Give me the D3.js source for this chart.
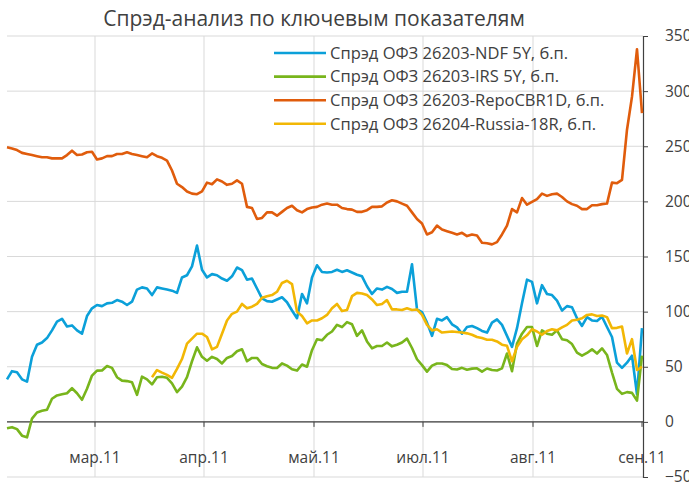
<!DOCTYPE html>
<html>
<head>
<meta charset="utf-8">
<script src="https://cdn.jsdelivr.net/npm/d3@7"></script>
<style>
  body { margin: 0; background: #fff; }
  svg { display: block; font-family: "Open Sans", "Noto Sans", sans-serif; }
</style>
</head>
<body>
<div id="chart"></div>
<script>
// ! data: one value per trading day, index 0..127
const seriesNames = [
  "Спрэд ОФЗ 26203-NDF 5Y, б.п.",
  "Спрэд ОФЗ 26203-IRS 5Y, б.п.",
  "Спрэд ОФЗ 26203-RepoCBR1D, б.п.",
  "Спрэд ОФЗ 26204-Russia-18R, б.п."
];
const seriesColors = ["#0ba0d9", "#78b51c", "#e05c0c", "#f2b705"];

const ndf = [38.6, 46, 45, 38.6, 36.5, 59, 70, 72, 76, 83, 91, 93.5, 86.5, 87.5, 83, 80,
  96, 103, 106, 105, 107.5, 108, 110.5, 109, 106, 109, 120, 122, 121, 115, 122, 121,
  120, 119, 117, 131, 133, 141, 160, 138, 131, 134, 133, 130, 128, 132, 140, 137.7,
  129, 130, 121, 112, 109.5, 109, 111, 113, 108.5, 101, 94, 116, 107.5, 131, 142, 136,
  135.5, 136, 138, 136, 137.5, 135.5, 133.5, 132, 123, 116, 121, 120, 122.5, 120.5, 117, 118,
  118, 143, 102, 99.5, 90, 78, 93.5, 92, 95, 88.5, 85.7, 80, 86, 87, 85, 82.5,
  81, 90, 93, 88, 78, 68, 85, 107.5, 129, 127, 107.5, 124, 116, 115, 110, 101,
  105, 104, 94, 87, 95, 92, 91.5, 95.4, 86, 77, 53.7, 49, 53.7, 60, 25, 85];

const irs = [-5.7, -4.8, -6.6, -12.5, -14, 3, 8.5, 10, 11, 21, 24, 25, 26, 30.5, 26, 20,
  30, 42, 46.5, 46.6, 50.7, 49, 40.5, 37.4, 37, 36, 24.5, 41, 38.6, 34, 40.5, 41,
  40, 35, 27, 32, 40.5, 55, 67.6, 59, 55.5, 59, 57, 53, 58, 59.8, 64, 65.8,
  55, 58, 58, 52.5, 50.5, 49, 48.8, 53, 51, 47.7, 46.5, 52, 50, 65, 75, 74,
  79, 82, 88, 86, 90.5, 88.5, 78, 83, 73, 66.7, 68.8, 68.8, 72, 68.5, 70, 72,
  75.5, 67, 56.8, 51.5, 45.6, 51, 53, 53, 51.5, 48, 47.5, 49, 47.3, 48.3, 48.6, 45.6,
  48.4, 47, 46.6, 48.5, 62, 46, 71, 80, 86, 86, 68.8, 83, 80, 79, 83, 75,
  74, 70.6, 62.8, 60, 62.5, 65.8, 62, 66.7, 60.7, 44.7, 30, 25.4, 27, 26.3, 19.3, 60];

const repo = [249, 248, 246.5, 244, 243, 242, 241, 240, 240, 239, 239, 239, 242, 246, 242, 242.5,
  244.5, 245, 238, 239, 241, 241, 243, 243, 244.5, 243, 242, 241, 240, 243.5, 241, 239.5,
  237, 228, 216, 213, 209, 207, 206.5, 209, 217, 215.5, 220, 218, 215, 216, 219, 216,
  195, 194, 184, 185, 190, 190, 187, 190.5, 194, 196, 192, 190, 193, 194.5, 195, 197,
  198, 197, 197, 194, 193, 192.5, 190.5, 190.5, 192, 195, 195, 195.5, 199, 201, 200, 198,
  196, 190, 184, 180, 170, 172, 178, 174.5, 173, 171.5, 170, 171.5, 168.5, 170, 169, 162.5,
  162, 161, 163, 170, 178, 193, 190, 203, 197, 199.5, 202, 207, 205, 206.5, 207, 204,
  200, 197.5, 196, 193, 193, 196.5, 196.5, 197.5, 198, 217, 216.5, 219.5, 265, 295, 338, 280];

const russia = [null, null, null, null, null, null, null, null, null, null, null, null, null, null, null, null,
  null, null, null, null, null, null, null, null, null, null, null, null, null, 40.5, 47, 44.7,
  42.6, 40, 48, 57, 71, 75.5, 80, 80, 77, 65.8, 68, 80, 92, 98, 100, 107,
  103, 104.5, 107, 112.5, 114, 115, 118, 126, 128, 125, 100, 96, 89.4, 92, 92, 94,
  97, 103, 107, 100.5, 101.5, 114, 117, 116.5, 115, 111, 106, 107, 110.5, 102, 102, 101.5,
  103, 101.5, 102, 97, 88, 83, 84, 81, 81.5, 82, 81.5, 81, 80.3, 79, 77, 76,
  74.5, 74.5, 73, 70, 69, 55, 68, 75, 78.5, 84, 82, 79, 82.5, 84, 83, 85.7,
  88, 92, 92.7, 94, 97, 97.5, 96, 96.5, 95, 85, 85.3, 86.5, 62, 75, 47, 50];

const monthLabels = ["мар.11", "апр.11", "май.11", "июл.11", "авг.11", "сен.11"];
const monthIndex = [17.6, 39.4, 61.4, 83.2, 105.2, 127];
const yTicks = [-50, 0, 50, 100, 150, 200, 250, 300, 350];

const width = 689, height = 487;
const plot = { left: 7, right: 643, top: 36, bottom: 477 };

const svg = d3.select("#chart").append("svg")
  .attr("width", width).attr("height", height);

const x = d3.scaleLinear().domain([0, ndf.length - 1]).range([plot.left, plot.right - 1]);
const y = d3.scaleLinear().domain([-50, 350]).range([plot.bottom, plot.top]);

// gridlines
svg.append("g").selectAll("line").data(yTicks).enter().append("line")
  .attr("x1", plot.left).attr("x2", plot.right)
  .attr("y1", d => y(d)).attr("y2", d => y(d))
  .attr("stroke", "#d9d9d9").attr("stroke-width", 1);

svg.append("g").selectAll("line").data(monthIndex.slice(0, -1)).enter().append("line")
  .attr("x1", d => x(d)).attr("x2", d => x(d))
  .attr("y1", plot.top).attr("y2", plot.bottom)
  .attr("stroke", "#d9d9d9").attr("stroke-width", 1);

// zero line with month ticks
svg.append("line")
  .attr("x1", plot.left).attr("x2", plot.right)
  .attr("y1", y(0)).attr("y2", y(0))
  .attr("stroke", "#404040").attr("stroke-width", 1.2);

svg.append("g").selectAll("line").data(monthIndex).enter().append("line")
  .attr("x1", d => x(d)).attr("x2", d => x(d))
  .attr("y1", y(0)).attr("y2", y(0) + 5)
  .attr("stroke", "#404040");

svg.append("g").selectAll("text").data(monthLabels).enter().append("text")
  .attr("x", (d, i) => x(monthIndex[i]))
  .attr("y", 463)
  .attr("text-anchor", "middle")
  .attr("font-size", 15.5)
  .attr("fill", "#404040")
  .text(d => d);

// right axis (labels run off the right edge, as in the source)
const yAxis = svg.append("g")
  .attr("transform", `translate(${plot.right},0)`)
  .call(d3.axisRight(y).tickValues(yTicks).tickSize(5).tickPadding(17));
yAxis.select(".domain").attr("stroke", "#404040").attr("stroke-width", 1.2);
yAxis.selectAll(".tick line").attr("stroke", "#404040");
yAxis.selectAll(".tick text")
  .attr("font-size", 15.5)
  .attr("font-family", "'Open Sans', 'Noto Sans', sans-serif")
  .attr("fill", "#404040");

// lines
const allSeries = [ndf, irs, repo, russia];
const line = d3.line()
  .defined(d => d != null)
  .x((d, i) => x(i))
  .y(d => y(d));

allSeries.forEach(function (s, k) {
  svg.append("path")
    .datum(s)
    .attr("fill", "none")
    .attr("stroke", seriesColors[k])
    .attr("stroke-width", 2.6)
    .attr("stroke-linejoin", "round")
    .attr("d", line);
});

// title
svg.append("text")
  .attr("x", 314).attr("y", 26)
  .attr("text-anchor", "middle")
  .attr("font-size", 21)
  .attr("fill", "#404040")
  .text("Спрэд-анализ по ключевым показателям");

// legend
const legend = svg.append("g").attr("transform", "translate(274,53)");
seriesNames.forEach(function (name, k) {
  const row = legend.append("g").attr("transform", `translate(0,${k * 23.6})`);
  row.append("line")
    .attr("x1", 0).attr("x2", 52)
    .attr("stroke", seriesColors[k]).attr("stroke-width", 2.6);
  row.append("text")
    .attr("x", 56).attr("dy", "0.35em")
    .attr("font-size", 16.5)
    .attr("fill", "#404040")
    .text(name);
});
</script>
</body>
</html>
